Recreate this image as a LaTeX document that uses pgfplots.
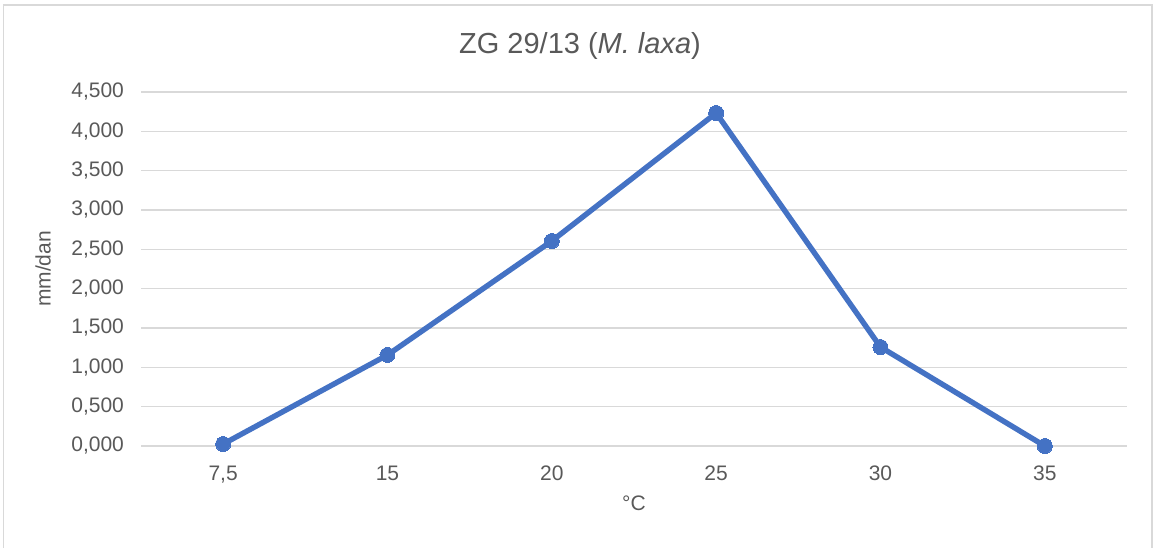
\documentclass[border=0pt]{standalone}
\usepackage{pgfplots}
\pgfplotsset{compat=1.18}
\usepackage{fontspec}
\setmainfont{Liberation Sans}
\definecolor{linecol}{HTML}{4472C4}
\definecolor{gridcol}{HTML}{D9D9D9}
\definecolor{textcol}{HTML}{595959}
\begin{document}
\begin{tikzpicture}
\useasboundingbox (0,0) rectangle (578.5pt,273.5pt);
\draw[gridcol, line width=0.6pt] (1.75pt,-2pt) -- (1.75pt,271pt) -- (576pt,271pt) -- (576pt,-2pt);
\begin{axis}[
  at={(70.5pt,50.5pt)}, anchor=south west,
  scale only axis, width=493pt, height=177pt,
  xmin=-0.5, xmax=5.5, ymin=0, ymax=4.5,
  clip=false,
  axis line style={draw=none},
  xtick=data,
  xticklabels={{7,5},15,20,25,30,35},
  ytick={0,0.5,...,4.5},
  major tick length=0pt,
  ymajorgrids,
  grid style={gridcol, line width=0.7pt},
  /pgf/number format/assume math mode=true,
  y tick label style={/pgf/number format/fixed, /pgf/number format/fixed zerofill, /pgf/number format/precision=3, /pgf/number format/use comma, /pgf/number format/1000 sep={}},
  scaled y ticks=false,
  ticklabel style={font=\fontsize{10.5}{12}\selectfont, text=textcol},
  yticklabel style={xshift=-5pt},
  xticklabel style={yshift=-6.5pt},
  xlabel={°C}, ylabel={mm/dan},
  label style={font=\fontsize{10.5}{12}\selectfont, text=textcol},
  xlabel style={at={(axis description cs:0.5,0)}, anchor=center, yshift=-28.5pt},
  ylabel style={at={(axis description cs:-0.0994,0.5)}, anchor=center},
]
\addplot[linecol, line width=2.7pt, mark=*, mark size=3.75pt, mark options={fill=linecol, draw=linecol, line width=0pt}]
coordinates {(0,0.025) (1,1.157) (2,2.606) (3,4.233) (4,1.258) (5,0.0)};
\end{axis}
\node[text=textcol, font=\fontsize{14.5}{17}\selectfont] at (290pt,250.5pt) {ZG 29/13 (\textit{M. laxa})};
\end{tikzpicture}
\end{document}
